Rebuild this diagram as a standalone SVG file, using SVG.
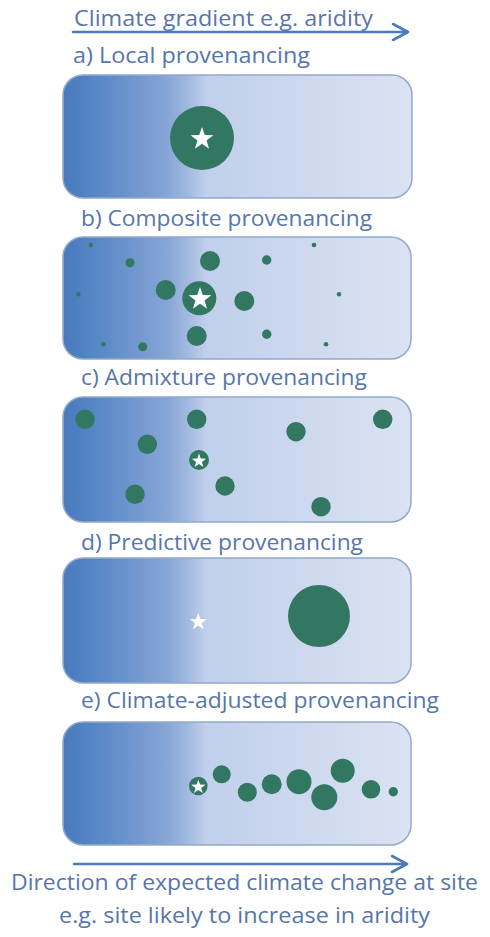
<svg xmlns="http://www.w3.org/2000/svg" xmlns:xlink="http://www.w3.org/1999/xlink" width="490" height="937" viewBox="0 0 490 937">
<style>
.t{font-family:"Open Sans","Noto Sans","Liberation Sans",sans-serif;font-size:22px;fill:#5676ab}
.box{fill:url(#g);stroke:#93a9ca;stroke-width:1.5}
.d{fill:#327762}
.s{fill:#ffffff}
.arr{fill:none;stroke:#4a7bbd;stroke-width:2.6;stroke-linecap:round;stroke-linejoin:round}
</style>
<defs>
<linearGradient id="g" x1="0" y1="0" x2="1" y2="0">
<stop offset="0" stop-color="#4879bd"/>
<stop offset="0.1" stop-color="#5888c6"/>
<stop offset="0.3" stop-color="#87a5d6"/>
<stop offset="0.36" stop-color="#a2bae0"/>
<stop offset="0.41" stop-color="#c0cfeb"/>
<stop offset="1" stop-color="#dbe3f2"/>
</linearGradient>
<path id="star" d="M0,-1 L0.235,-0.324 L0.951,-0.309 L0.380,0.124 L0.588,0.809 L0,0.4 L-0.588,0.809 L-0.380,0.124 L-0.951,-0.309 L-0.235,-0.324 Z"/>
</defs>

<g id="connectors">
<path class="arr" d="M73,32 H407 M393,24 L408,32 L393,40"/>
<path class="arr" d="M74,864 H406 M392,856 L407,864 L392,872"/>
</g>

<g id="title">
<text class="t" x="74" y="26" textLength="299" lengthAdjust="spacingAndGlyphs">Climate gradient e.g. aridity</text>
</g>

<g id="panel-a">
<text class="t" x="73" y="63" textLength="237" lengthAdjust="spacingAndGlyphs">a) Local provenancing</text>
<rect class="box" x="63" y="75" width="349" height="123" rx="20"/>
<circle class="d" cx="202" cy="138" r="32"/>
<use href="#star" class="s" transform="translate(202,139) scale(12)"/>
</g>

<g id="panel-b">
<text class="t" x="81" y="226" textLength="291" lengthAdjust="spacingAndGlyphs">b) Composite provenancing</text>
<rect class="box" x="63" y="237" width="348" height="122" rx="20"/>
<g class="d">
<circle cx="90.7" cy="245" r="2.2"/>
<circle cx="130" cy="262.7" r="4.5"/>
<circle cx="210" cy="261" r="10"/>
<circle cx="266.7" cy="260" r="4.7"/>
<circle cx="314" cy="245" r="2.3"/>
<circle cx="78.3" cy="294.3" r="2.2"/>
<circle cx="165.7" cy="290" r="10"/>
<circle cx="199.3" cy="298.3" r="17"/>
<circle cx="244.3" cy="301" r="10"/>
<circle cx="339" cy="294.3" r="2.2"/>
<circle cx="103.3" cy="344.3" r="2.2"/>
<circle cx="142.7" cy="346.7" r="4.5"/>
<circle cx="196.7" cy="336" r="10"/>
<circle cx="266.7" cy="334.3" r="4.7"/>
<circle cx="326" cy="344.3" r="2.3"/>
</g>
<use href="#star" class="s" transform="translate(200,299) scale(12)"/>
</g>

<g id="panel-c">
<text class="t" x="81" y="385" textLength="286" lengthAdjust="spacingAndGlyphs">c) Admixture provenancing</text>
<rect class="box" x="63" y="397" width="348" height="125" rx="20"/>
<g class="d">
<circle cx="85" cy="419.3" r="9.7"/>
<circle cx="196.7" cy="419.3" r="9.7"/>
<circle cx="147.3" cy="444.3" r="9.7"/>
<circle cx="296" cy="431.7" r="9.7"/>
<circle cx="382.7" cy="419.3" r="9.7"/>
<circle cx="199" cy="460" r="10"/>
<circle cx="135" cy="494.3" r="9.7"/>
<circle cx="225" cy="486" r="9.7"/>
<circle cx="321" cy="506.7" r="9.7"/>
</g>
<use href="#star" class="s" transform="translate(199,461) scale(7.5)"/>
</g>

<g id="panel-d">
<text class="t" x="81" y="550" textLength="282" lengthAdjust="spacingAndGlyphs">d) Predictive provenancing</text>
<rect class="box" x="63" y="558" width="348" height="125" rx="20"/>
<use href="#star" class="s" transform="translate(198.3,622) scale(9)"/>
<circle class="d" cx="319" cy="616" r="31"/>
</g>

<g id="panel-e">
<text class="t" x="81" y="708" textLength="358" lengthAdjust="spacingAndGlyphs">e) Climate-adjusted provenancing</text>
<rect class="box" x="63" y="722" width="348" height="123" rx="20"/>
<g class="d">
<circle cx="198.3" cy="786" r="9.3"/>
<circle cx="221.7" cy="774.3" r="9"/>
<circle cx="247.3" cy="792.3" r="9.5"/>
<circle cx="271.7" cy="784.3" r="10"/>
<circle cx="299" cy="781.7" r="12.5"/>
<circle cx="324.3" cy="797.3" r="13"/>
<circle cx="342.7" cy="770.7" r="12"/>
<circle cx="371" cy="789.3" r="9.3"/>
<circle cx="393.3" cy="791.7" r="4.7"/>
</g>
<use href="#star" class="s" transform="translate(198.3,787) scale(7.5)"/>
</g>

<g id="caption">
<text class="t" x="11" y="890" textLength="467" lengthAdjust="spacingAndGlyphs">Direction of expected climate change at site</text>
<text class="t" x="59" y="923" textLength="371" lengthAdjust="spacingAndGlyphs">e.g. site likely to increase in aridity</text>
</g>
</svg>
